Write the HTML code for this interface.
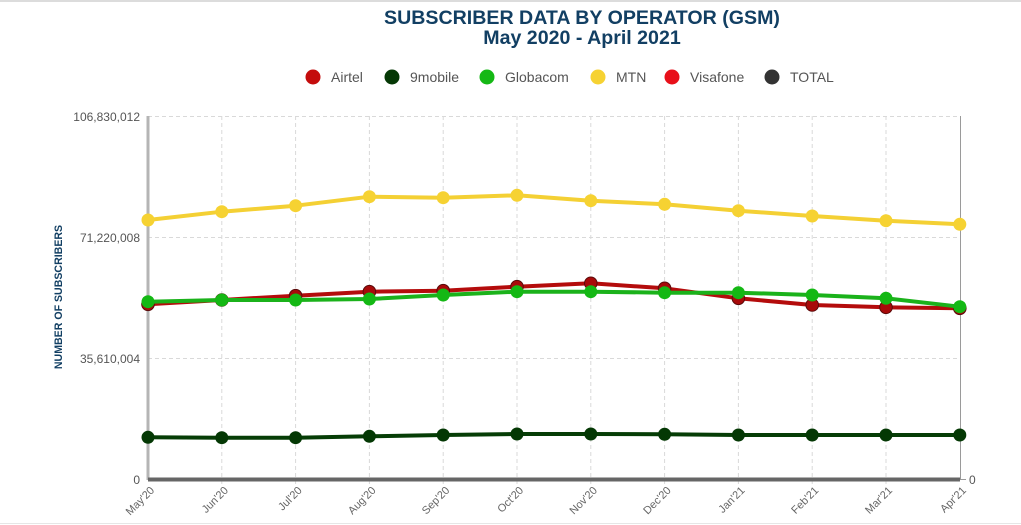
<!DOCTYPE html>
<html>
<head>
<meta charset="utf-8">
<style>
  html,body{margin:0;padding:0;background:#fff;}
  svg{display:block;}
  text{font-family:"Liberation Sans", Arial, sans-serif;}
</style>
</head>
<body>
<svg width="1021" height="525" viewBox="0 0 1021 525" xmlns="http://www.w3.org/2000/svg">
  <rect x="0" y="0" width="1021" height="525" fill="#fff"/>
  <line x1="0" y1="1" x2="1021" y2="1" stroke="#dcdcdc" stroke-width="2"/>
  <line x1="0" y1="523.5" x2="1021" y2="523.5" stroke="#e6e6e6" stroke-width="1"/>

  <!-- Title -->
  <text x="582" y="24" text-anchor="middle" font-size="19.6" font-weight="bold" fill="#123f63">SUBSCRIBER DATA BY OPERATOR (GSM)</text>
  <text x="582" y="44" text-anchor="middle" font-size="19.6" font-weight="bold" fill="#123f63">May 2020 - April 2021</text>

  <!-- Legend -->
  <g font-size="14" fill="#555">
    <circle cx="313" cy="77" r="7.5" fill="#c40c0c"/>
    <text x="331" y="82">Airtel</text>
    <circle cx="392" cy="77" r="7.5" fill="#053805"/>
    <text x="410" y="82">9mobile</text>
    <circle cx="487" cy="77" r="7.5" fill="#15b815"/>
    <text x="505" y="82">Globacom</text>
    <circle cx="598" cy="77" r="7.5" fill="#f6d232"/>
    <text x="616" y="82">MTN</text>
    <circle cx="672" cy="77" r="7.5" fill="#e8101a"/>
    <text x="690" y="82">Visafone</text>
    <circle cx="772" cy="77" r="7.5" fill="#333"/>
    <text x="790" y="82">TOTAL</text>
  </g>

  <!-- Grid -->
  <g stroke="#d9d9d9" stroke-width="1" stroke-dasharray="4,3" fill="none">
    <line x1="148" y1="116.5" x2="960" y2="116.5"/>
    <line x1="148" y1="237.5" x2="960" y2="237.5"/>
    <line x1="148" y1="358.5" x2="960" y2="358.5"/>
    <line x1="221.8" y1="116" x2="221.8" y2="486"/>
    <line x1="295.6" y1="116" x2="295.6" y2="486"/>
    <line x1="369.4" y1="116" x2="369.4" y2="486"/>
    <line x1="443.2" y1="116" x2="443.2" y2="486"/>
    <line x1="517" y1="116" x2="517" y2="486"/>
    <line x1="590.8" y1="116" x2="590.8" y2="486"/>
    <line x1="664.6" y1="116" x2="664.6" y2="486"/>
    <line x1="738.4" y1="116" x2="738.4" y2="486"/>
    <line x1="812.2" y1="116" x2="812.2" y2="486"/>
    <line x1="886" y1="116" x2="886" y2="486"/>
  </g>

  <!-- Axes -->
  <line x1="148" y1="116" x2="148" y2="480" stroke="#b5b5b5" stroke-width="3"/>
  <line x1="960.5" y1="116" x2="960.5" y2="480" stroke="#9a9a9a" stroke-width="1"/>
  <line x1="960" y1="479.5" x2="966" y2="479.5" stroke="#9a9a9a" stroke-width="1"/>
  <line x1="148" y1="479.5" x2="960" y2="479.5" stroke="#666" stroke-width="4"/>

  <!-- Y labels -->
  <g font-size="12" fill="#555" text-anchor="end">
    <text x="140" y="121">106,830,012</text>
    <text x="140" y="242">71,220,008</text>
    <text x="140" y="363">35,610,004</text>
    <text x="140" y="484">0</text>
  </g>
  <text x="969" y="484" font-size="12" fill="#555">0</text>

  <!-- Y title -->
  <text transform="translate(62,297) rotate(-90)" text-anchor="middle" font-size="10.6" font-weight="bold" fill="#123f63">NUMBER OF SUBSCRIBERS</text>

  <!-- X labels -->
  <g font-size="11" fill="#666" text-anchor="end">
    <text transform="translate(155,491) rotate(-45)">May'20</text>
    <text transform="translate(228.8,491) rotate(-45)">Jun'20</text>
    <text transform="translate(302.6,491) rotate(-45)">Jul'20</text>
    <text transform="translate(376.4,491) rotate(-45)">Aug'20</text>
    <text transform="translate(450.2,491) rotate(-45)">Sep'20</text>
    <text transform="translate(524,491) rotate(-45)">Oct'20</text>
    <text transform="translate(597.8,491) rotate(-45)">Nov'20</text>
    <text transform="translate(671.6,491) rotate(-45)">Dec'20</text>
    <text transform="translate(745.4,491) rotate(-45)">Jan'21</text>
    <text transform="translate(819.2,491) rotate(-45)">Feb'21</text>
    <text transform="translate(893,491) rotate(-45)">Mar'21</text>
    <text transform="translate(966.8,491) rotate(-45)">Apr'21</text>
  </g>

  <!-- Airtel -->
  <g>
    <polyline fill="none" stroke="#b40c0c" stroke-width="4" stroke-linejoin="round"
      points="148,304.3 221.8,300 295.6,295.7 369.4,291.7 443.2,290.7 517,286.7 590.8,283.3 664.6,288.3 738.4,298.3 812.2,305 886,307.3 959.8,308.3"/>
    <g fill="#a80a0a" stroke="#5a0a0a" stroke-width="1">
      <circle cx="148" cy="304.3" r="6.3"/>
      <circle cx="221.8" cy="300" r="6.3"/>
      <circle cx="295.6" cy="295.7" r="6.3"/>
      <circle cx="369.4" cy="291.7" r="6.3"/>
      <circle cx="443.2" cy="290.7" r="6.3"/>
      <circle cx="517" cy="286.7" r="6.3"/>
      <circle cx="590.8" cy="283.3" r="6.3"/>
      <circle cx="664.6" cy="288.3" r="6.3"/>
      <circle cx="738.4" cy="298.3" r="6.3"/>
      <circle cx="812.2" cy="305" r="6.3"/>
      <circle cx="886" cy="307.3" r="6.3"/>
      <circle cx="959.8" cy="308.3" r="6.3"/>
    </g>
  </g>

  <!-- 9mobile -->
  <g>
    <polyline fill="none" stroke="#063d06" stroke-width="4" stroke-linejoin="round"
      points="148,437.3 221.8,437.7 295.6,437.7 369.4,436.3 443.2,435 517,434 590.8,434 664.6,434.3 738.4,435 812.2,435 886,435 959.8,435"/>
    <g fill="#043804">
      <circle cx="148" cy="437.3" r="6.5"/>
      <circle cx="221.8" cy="437.7" r="6.5"/>
      <circle cx="295.6" cy="437.7" r="6.5"/>
      <circle cx="369.4" cy="436.3" r="6.5"/>
      <circle cx="443.2" cy="435" r="6.5"/>
      <circle cx="517" cy="434" r="6.5"/>
      <circle cx="590.8" cy="434" r="6.5"/>
      <circle cx="664.6" cy="434.3" r="6.5"/>
      <circle cx="738.4" cy="435" r="6.5"/>
      <circle cx="812.2" cy="435" r="6.5"/>
      <circle cx="886" cy="435" r="6.5"/>
      <circle cx="959.8" cy="435" r="6.5"/>
    </g>
  </g>

  <!-- Globacom -->
  <g>
    <polyline fill="none" stroke="#1bb21b" stroke-width="4" stroke-linejoin="round"
      points="148,301.7 221.8,300 295.6,300 369.4,299 443.2,295 517,291.7 590.8,291.7 664.6,292.7 738.4,292.7 812.2,295 886,298.3 959.8,306.7"/>
    <g fill="#14b814">
      <circle cx="148" cy="301.7" r="6.5"/>
      <circle cx="221.8" cy="300" r="6.5"/>
      <circle cx="295.6" cy="300" r="6.5"/>
      <circle cx="369.4" cy="299" r="6.5"/>
      <circle cx="443.2" cy="295" r="6.5"/>
      <circle cx="517" cy="291.7" r="6.5"/>
      <circle cx="590.8" cy="291.7" r="6.5"/>
      <circle cx="664.6" cy="292.7" r="6.5"/>
      <circle cx="738.4" cy="292.7" r="6.5"/>
      <circle cx="812.2" cy="295" r="6.5"/>
      <circle cx="886" cy="298.3" r="6.5"/>
      <circle cx="959.8" cy="306.7" r="6.5"/>
    </g>
  </g>

  <!-- MTN -->
  <g>
    <polyline fill="none" stroke="#f4d034" stroke-width="4" stroke-linejoin="round"
      points="148,220 221.8,211.7 295.6,205.7 369.4,196.7 443.2,197.7 517,195.3 590.8,200.7 664.6,204.3 738.4,210.7 812.2,216 886,220.7 959.8,224.3"/>
    <g fill="#f6d232">
      <circle cx="148" cy="220" r="6.5"/>
      <circle cx="221.8" cy="211.7" r="6.5"/>
      <circle cx="295.6" cy="205.7" r="6.5"/>
      <circle cx="369.4" cy="196.7" r="6.5"/>
      <circle cx="443.2" cy="197.7" r="6.5"/>
      <circle cx="517" cy="195.3" r="6.5"/>
      <circle cx="590.8" cy="200.7" r="6.5"/>
      <circle cx="664.6" cy="204.3" r="6.5"/>
      <circle cx="738.4" cy="210.7" r="6.5"/>
      <circle cx="812.2" cy="216" r="6.5"/>
      <circle cx="886" cy="220.7" r="6.5"/>
      <circle cx="959.8" cy="224.3" r="6.5"/>
    </g>
  </g>
</svg>
</body>
</html>
